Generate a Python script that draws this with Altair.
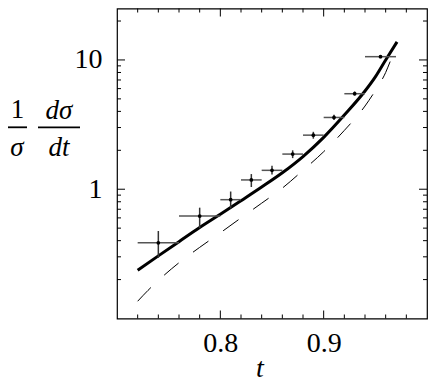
import altair as alt
import pandas as pd

# ---- data ----
t_solid = [0.72, 0.74, 0.76, 0.78, 0.80, 0.82, 0.84, 0.86, 0.88, 0.90, 0.92, 0.94, 0.95, 0.96, 0.971]
v_solid = [0.236, 0.305, 0.393, 0.505, 0.640, 0.815, 1.04, 1.34, 1.79, 2.52, 3.75, 5.75, 7.4, 10.0, 13.8]

t_dash = [0.72, 0.73, 0.74, 0.76, 0.78, 0.80, 0.82, 0.84, 0.86, 0.88, 0.90, 0.92, 0.94, 0.95, 0.96, 0.965, 0.971]
v_dash = [0.136, 0.165, 0.197, 0.270, 0.355, 0.460, 0.600, 0.780, 1.02, 1.40, 1.95, 2.85, 4.4, 5.8, 8.0, 10.0, 12.8]

t_pts = [0.74, 0.78, 0.81, 0.83, 0.85, 0.87, 0.89, 0.91, 0.93, 0.955]
t_lo = [0.72, 0.76, 0.80, 0.82, 0.84, 0.86, 0.88, 0.90, 0.92, 0.94]
t_hi = [0.76, 0.80, 0.82, 0.84, 0.86, 0.88, 0.90, 0.92, 0.94, 0.97]
v_pts = [0.385, 0.62, 0.83, 1.18, 1.40, 1.87, 2.62, 3.59, 5.48, 10.6]
v_lo = [0.295, 0.50, 0.71, 1.04, 1.30, 1.74, 2.46, 3.43, 5.30, 10.3]
v_hi = [0.475, 0.72, 0.96, 1.31, 1.52, 2.00, 2.78, 3.76, 5.70, 10.9]

x_labels = [0.8, 0.9]
y_labels = [1, 10]
x_minor = [0.72, 0.74, 0.76, 0.78, 0.82, 0.84, 0.86, 0.88, 0.92, 0.94, 0.96, 0.98]
x_major = [0.8, 0.9]
y_minor = [0.2, 0.3, 0.4, 0.5, 0.6, 0.7, 0.8, 0.9, 2, 3, 4, 5, 6, 7, 8, 9, 20]
y_major = [1, 10]

ylab_num1 = ["1"]
ylab_den1 = ["σ"]
ylab_num2 = ["dσ"]
ylab_den2 = ["dt"]
xlab = ["t"]

# ---- layout ----
W, H = 310, 310
FONT = "Liberation Serif"
xs = alt.Scale(domain=[0.7, 1.0], nice=False, zero=False)
ys = alt.Scale(type="log", domain=[0.1, 25], nice=False)
xaxis = alt.Axis(values=x_labels, format=".1f", tickSize=0, domain=False, grid=False, title=None,
                 labelFont=FONT, labelFontSize=28, labelPadding=11, labelColor="black")
yaxis = alt.Axis(values=y_labels, format="~g", tickSize=0, domain=False, grid=False, title=None,
                 labelFont=FONT, labelFontSize=28, labelPadding=15, labelColor="black")

df_solid = pd.DataFrame({"t": t_solid, "v": v_solid})
df_dash = pd.DataFrame({"t": t_dash, "v": v_dash})
df_pts = pd.DataFrame({"t": t_pts, "tlo": t_lo, "thi": t_hi, "v": v_pts, "vlo": v_lo, "vhi": v_hi})

solid = alt.Chart(df_solid).mark_line(color="black", strokeWidth=3, interpolate="monotone").encode(
    x=alt.X("t:Q", scale=xs, axis=xaxis),
    y=alt.Y("v:Q", scale=ys, axis=yaxis),
)

dashed = alt.Chart(df_dash).mark_line(color="black", strokeWidth=1, strokeDash=[19, 18],
                                      interpolate="monotone").encode(
    x=alt.X("t:Q", scale=xs, axis=xaxis),
    y=alt.Y("v:Q", scale=ys, axis=yaxis),
)

xerr = alt.Chart(df_pts).mark_rule(color="#555555", strokeWidth=1.5).encode(
    x=alt.X("tlo:Q", scale=xs, axis=xaxis), x2="thi:Q",
    y=alt.Y("v:Q", scale=ys, axis=yaxis),
)
yerr = alt.Chart(df_pts).mark_rule(color="#333333", strokeWidth=1.5).encode(
    x=alt.X("t:Q", scale=xs, axis=xaxis),
    y=alt.Y("vlo:Q", scale=ys, axis=yaxis), y2="vhi:Q",
)
dots = alt.Chart(df_pts).mark_circle(color="black", size=14, opacity=1).encode(
    x=alt.X("t:Q", scale=xs, axis=xaxis),
    y=alt.Y("v:Q", scale=ys, axis=yaxis),
)


def xticks(vals, length):
    d = pd.DataFrame({"v": vals})
    bottom = alt.Chart(d).mark_rule(color="black", strokeWidth=1).encode(
        x=alt.X("v:Q", scale=xs, axis=xaxis), y=alt.value(H), y2=alt.value(H - length))
    top = alt.Chart(d).mark_rule(color="black", strokeWidth=1).encode(
        x=alt.X("v:Q", scale=xs, axis=xaxis), y=alt.value(0), y2=alt.value(length))
    return [bottom, top]


def yticks(vals, length):
    d = pd.DataFrame({"v": vals})
    left = alt.Chart(d).mark_rule(color="black", strokeWidth=1).encode(
        y=alt.Y("v:Q", scale=ys, axis=yaxis), x=alt.value(0), x2=alt.value(length))
    right = alt.Chart(d).mark_rule(color="black", strokeWidth=1).encode(
        y=alt.Y("v:Q", scale=ys, axis=yaxis), x=alt.value(W), x2=alt.value(W - length))
    return [left, right]


def label(txt, x, y, italic=False, size=27):
    return alt.Chart(pd.DataFrame({"s": txt})).mark_text(
        font=FONT, fontSize=size, fontStyle="italic" if italic else "normal",
        align="center", baseline="alphabetic", color="black").encode(
        x=alt.value(x), y=alt.value(y), text="s:N")


def fracbar(x1, x2, y):
    return alt.Chart(pd.DataFrame({"s": ["bar"]})).mark_rule(color="black", strokeWidth=1.8).encode(
        x=alt.value(x1), x2=alt.value(x2), y=alt.value(y))


layers = [solid, dashed, xerr, yerr, dots]
layers += xticks(x_minor, 4) + xticks(x_major, 8)
layers += yticks(y_minor, 4) + yticks(y_major, 8)
layers += [
    label(ylab_num1, -99.5, 109.5),
    fracbar(-109, -90, 118.8),
    label(ylab_den1, -100, 147.5, italic=True),
    label(ylab_num2, -58, 110, italic=True),
    fracbar(-79, -37, 118.8),
    label(ylab_den2, -58, 147.5, italic=True),
    label(xlab, 143, 368.5, italic=True, size=28),
]

chart = alt.layer(*layers).properties(
    width=W, height=H,
    padding={"left": 109, "top": 0.5, "right": 1, "bottom": 65.5},
    autosize=alt.AutoSizeParams(type="none"),
).configure_view(stroke="black", strokeWidth=1.2)

chart.save("out.html", embed_options={"renderer": "svg", "actions": False})
